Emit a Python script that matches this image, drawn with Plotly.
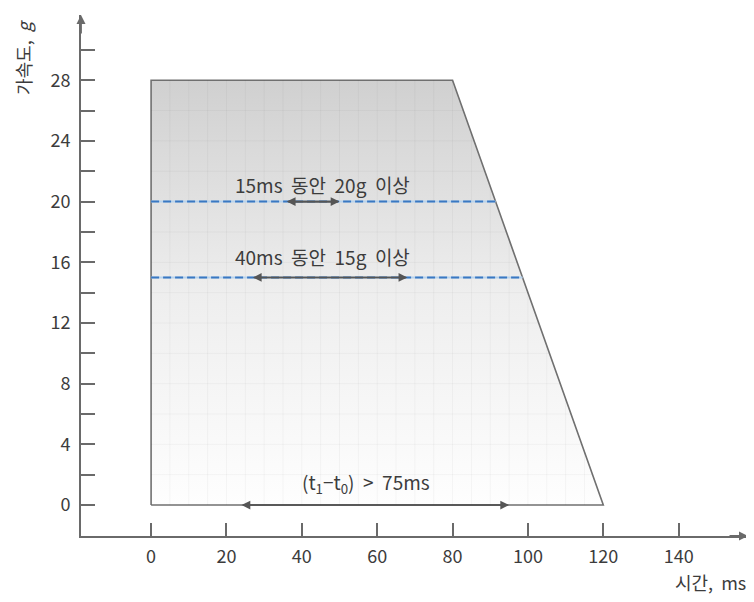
import plotly.graph_objects as go

# ---- data ----
time_ms = [0, 0, 80, 120, 0]          # pulse envelope (time, ms)
accel_g = [0, 28, 28, 0, 0]           # pulse envelope (acceleration, g)
levels_g = [20, 15]                   # threshold levels
level_labels = ["15ms&nbsp;&nbsp;동안&nbsp;&nbsp;20g&nbsp;&nbsp;이상", "40ms&nbsp;&nbsp;동안&nbsp;&nbsp;15g&nbsp;&nbsp;이상"]
level_arrow_from = [36, 27]
level_arrow_to = [50, 68]
level_label_x = [45.4, 45.4]
level_label_y = [21.1, 16.35]
total_label = "(t<sub>1</sub>−t<sub>0</sub>)&nbsp;&nbsp;&gt;&nbsp;&nbsp;75ms"
total_arrow = [24, 95]
total_label_pos = [57, 1.45]
x_ticks = [0, 20, 40, 60, 80, 100, 120, 140]
y_ticks = list(range(0, 31, 2))
y_ticktext = [str(v) if v % 4 == 0 else "" for v in y_ticks]
x_title = "시간,&nbsp;&nbsp;ms"
y_title = "가속도,&nbsp;&nbsp;<i>g</i>"

FONT = "Noto Sans CJK KR"
AX = "#6a6a6a"
TXT = "#3c3c3c"
FS = 18
FS_LAB = 19

# edge of the envelope at a given level (falling side)
def fall_edge(g):
    x0, x1 = time_ms[2], time_ms[3]
    y0, y1 = accel_g[2], accel_g[3]
    return x0 + (g - y0) * (x1 - x0) / (y1 - y0)

fig = go.Figure()

# envelope with vertical gradient
fig.add_trace(go.Scatter(
    x=time_ms, y=accel_g, mode="lines", fill="toself",
    fillgradient=dict(type="vertical",
                      colorscale=[[0, "#fefefe"], [0.5, "#eeeeee"], [1, "#d0d0d0"]]),
    line=dict(color="#707070", width=1.6), hoverinfo="skip", showlegend=False))

# faint grid inside envelope
gx, gy = [], []
for v in range(5, 120, 5):
    top = accel_g[1] if v <= time_ms[2] else accel_g[2] + (v - time_ms[2]) * (accel_g[3] - accel_g[2]) / (time_ms[3] - time_ms[2])
    gx += [v, v, None]; gy += [0, top, None]
for h in range(2, 28, 2):
    gx += [0, fall_edge(h), None]; gy += [h, h, None]
fig.add_trace(go.Scatter(x=gx, y=gy, mode="lines",
                         line=dict(color="rgba(0,0,0,0.035)", width=1),
                         hoverinfo="skip", showlegend=False))

# threshold dashed lines
for g in levels_g:
    xe = fall_edge(g)
    fig.add_trace(go.Scatter(x=[0, xe], y=[g, g], mode="lines",
                             line=dict(color="#b7d3ee", width=2),
                             hoverinfo="skip", showlegend=False))
    fig.add_trace(go.Scatter(x=[0, xe], y=[g, g], mode="lines",
                             line=dict(color="#3a78c2", width=2, dash="8px,4px"),
                             hoverinfo="skip", showlegend=False))

annotations = []

def darrow(x0, x1, y):
    for a, b in ((x0, x1), (x1, x0)):
        annotations.append(dict(x=b, y=y, ax=a, ay=y, xref="x", yref="y",
                                axref="x", ayref="y", text="", showarrow=True,
                                arrowhead=2, arrowsize=1.1, arrowwidth=1.6,
                                arrowcolor="#555555"))

for g, a, b, lab, lx, ly in zip(levels_g, level_arrow_from, level_arrow_to,
                                level_labels, level_label_x, level_label_y):
    darrow(a, b, g)
    annotations.append(dict(x=lx, y=ly, xref="x", yref="y", text=lab,
                            showarrow=False, font=dict(size=FS_LAB, color=TXT, family=FONT)))

darrow(total_arrow[0], total_arrow[1], 0)
annotations.append(dict(x=total_label_pos[0], y=total_label_pos[1], xref="x", yref="y",
                        text=total_label, showarrow=False,
                        font=dict(size=FS_LAB, color=TXT, family=FONT)))

# axis arrowheads
annotations.append(dict(x=0, y=1, xref="paper", yref="paper", ax=0, ay=20,
                        text="", showarrow=True, arrowhead=2, arrowsize=1,
                        arrowwidth=1.8, arrowcolor=AX))
annotations.append(dict(x=1, y=0, xref="paper", yref="paper", ax=-20, ay=0,
                        text="", showarrow=True, arrowhead=2, arrowsize=1,
                        arrowwidth=1.8, arrowcolor=AX))

# axis titles
annotations.append(dict(x=0, y=1, xref="paper", yref="paper", xshift=-58, yshift=-42,
                        text=y_title, textangle=-90, showarrow=False,
                        xanchor="center", yanchor="middle",
                        font=dict(size=FS, color=TXT, family=FONT)))
annotations.append(dict(x=1, y=0, xref="paper", yref="paper", yshift=-46,
                        text=x_title, showarrow=False, xanchor="right", yanchor="middle",
                        font=dict(size=FS, color=TXT, family=FONT)))

# page body adds an 8px offset; margins compensate so the plot lands where intended
fig.update_layout(
    width=754, height=602,
    margin=dict(l=73, r=14, t=7, b=74),
    paper_bgcolor="white", plot_bgcolor="white",
    font=dict(family=FONT, color=TXT, size=FS),
    annotations=annotations,
    xaxis=dict(range=[-18.6, 158.4], tickvals=x_ticks, ticks="inside", ticklen=13,
               tickwidth=1.5, tickcolor=AX, showline=True, linecolor=AX, linewidth=2,
               showgrid=False, zeroline=False, ticklabelstandoff=3,
               tickfont=dict(size=FS, color=TXT, family=FONT)),
    yaxis=dict(range=[-2.04, 32.3], tickvals=y_ticks, ticktext=y_ticktext,
               ticks="inside", ticklen=14, tickwidth=1.5, tickcolor=AX,
               showline=True, linecolor=AX, linewidth=2, showgrid=False,
               zeroline=False, ticklabelstandoff=5,
               tickfont=dict(size=FS, color=TXT, family=FONT)),
)

fig.write_html("out.html")
